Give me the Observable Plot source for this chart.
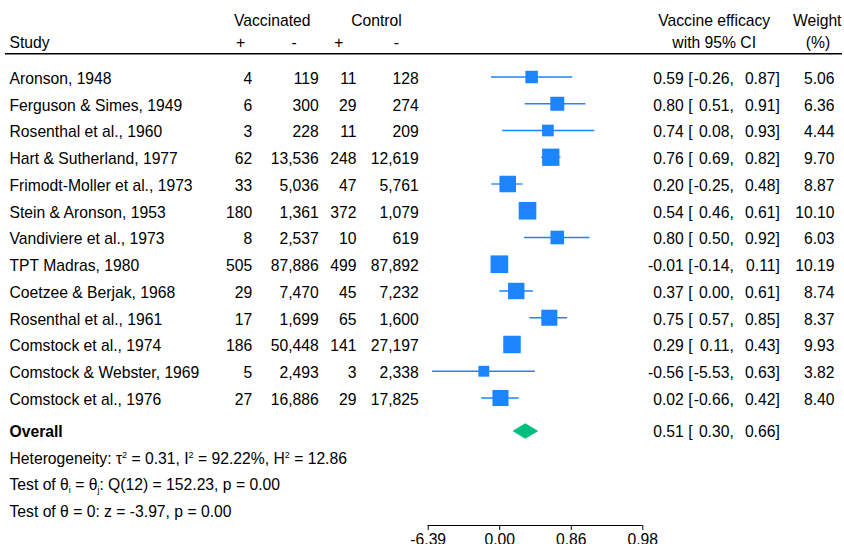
<!DOCTYPE html>
<html><head><meta charset="utf-8">
<script src="https://cdn.jsdelivr.net/npm/d3@7"></script>
<script src="https://cdn.jsdelivr.net/npm/@observablehq/plot@0.6"></script>
<style>body{margin:0;background:#fff} svg{display:block}</style>
</head><body><div id="chart"></div>
<script>
// ---- data ----
const studies = ["Aronson, 1948", "Ferguson & Simes, 1949", "Rosenthal et al., 1960", "Hart & Sutherland, 1977",
  "Frimodt-Moller et al., 1973", "Stein & Aronson, 1953", "Vandiviere et al., 1973", "TPT Madras, 1980",
  "Coetzee & Berjak, 1968", "Rosenthal et al., 1961", "Comstock et al., 1974", "Comstock & Webster, 1969", "Comstock et al., 1976"];
const vaccPos = [4, 6, 3, 62, 33, 180, 8, 505, 29, 17, 186, 5, 27];
const vaccNeg = [119, 300, 228, 13536, 5036, 1361, 2537, 87886, 7470, 1699, 50448, 2493, 16886];
const ctrlPos = [11, 29, 11, 248, 47, 372, 10, 499, 45, 65, 141, 3, 29];
const ctrlNeg = [128, 274, 209, 12619, 5761, 1079, 619, 87892, 7232, 1600, 27197, 2338, 17825];
const efficacy = [0.59, 0.80, 0.74, 0.76, 0.20, 0.54, 0.80, -0.01, 0.37, 0.75, 0.29, -0.56, 0.02];
const lower = [-0.26, 0.51, 0.08, 0.69, -0.25, 0.46, 0.50, -0.14, 0.00, 0.57, 0.11, -5.53, -0.66];
const upper = [0.87, 0.91, 0.93, 0.82, 0.48, 0.61, 0.92, 0.11, 0.61, 0.85, 0.43, 0.63, 0.42];
const weight = [5.06, 6.36, 4.44, 9.70, 8.87, 10.10, 6.03, 10.19, 8.74, 8.37, 9.93, 3.82, 8.40];
const overall = {efficacy: 0.51, lower: 0.30, upper: 0.66};
const summaryLines = [
  "Heterogeneity: τ^2 = 0.31, I^2 = 92.22%, H^2 = 12.86",
  "Test of θ_i = θ_j: Q(12) = 152.23, p = 0.00",
  "Test of θ = 0: z = -3.97, p = 0.00"
];
const axisTicks = [-2, 0, 2, 4]; // on the -ln(1 - efficacy) scale
const headers = {vacc: "Vaccinated", ctrl: "Control", study: "Study", plus: "+", minus: "-",
  eff1: "Vaccine efficacy", eff2: "with 95% CI", w1: "Weight", w2: "(%)", overall: "Overall"};

// ---- layout ----
const W = 844, H = 544, ML = 5, MR = 2, MT = 0, MB = 19;
const FS = 15.7;
const BLUE = "#1a85ff", GREEN = "#00bf7f";
const rowBase = i => 83.3 + 26.75 * i;
const MARK_OFF = 6.8;
const tx = e => -Math.log(1 - e);
const f2 = d => d.toFixed(2);
const fc = d3.format(",");

const rows = studies.map((s, i) => ({
  study: s, vp: fc(vaccPos[i]), vn: fc(vaccNeg[i]), cp: fc(ctrlPos[i]), cn: fc(ctrlNeg[i]),
  est: f2(efficacy[i]), lo: "[", lostr: f2(lower[i]) + ",", histr: f2(upper[i]) + "]", w: f2(weight[i]),
  x: tx(efficacy[i]), x1: tx(lower[i]), x2: tx(upper[i]), weight: weight[i],
  yb: rowBase(i), ym: rowBase(i) - MARK_OFF
}));

const col = (data, text, xpx, anchor, extra = {}) => Plot.text(data, {
  text, y: "yb", frameAnchor: "left", dx: xpx - ML, textAnchor: anchor, lineAnchor: "bottom", ...extra
});
const label = (text, xpx, base, anchor, extra = {}) => Plot.text([text], {
  frameAnchor: "top-left", dx: xpx - ML, dy: base - MT, textAnchor: anchor, lineAnchor: "bottom", ...extra
});

const OVB = 436.7, OVM = 430.5, DH = 7.8;
const oRow = [{yb: OVB, est: f2(overall.efficacy), lo: "[", lostr: f2(overall.lower) + ",", histr: f2(overall.upper) + "]"}];
const diamond = [
  {x: tx(overall.lower), y: OVM}, {x: tx(overall.efficacy), y: OVM - DH},
  {x: tx(overall.upper), y: OVM}, {x: tx(overall.efficacy), y: OVM + DH}, {x: tx(overall.lower), y: OVM}
];
const sumRows = summaryLines.map((t, i) => ({t, yb: 463.3 + 26.5 * i}));

const chart = Plot.plot({
  width: W, height: H, marginLeft: ML, marginRight: MR, marginTop: MT, marginBottom: MB,
  style: {fontFamily: "'Liberation Sans', Arial, Helvetica, sans-serif", fontSize: FS + "px", color: "#000", background: "#fff"},
  x: {domain: [-2, 4], range: [427.7, 642.3], axis: null},
  y: {type: "identity", axis: null},
  r: {type: "sqrt", domain: [0, 1], range: [0, 3.13], clamp: false},
  marks: [
    // headers
    label(headers.vacc, 271.7, 25, "middle"),
    label(headers.ctrl, 376, 25, "middle"),
    label(headers.study, 9, 47.5, "start"),
    label(headers.plus, 240, 47.5, "middle"),
    label(headers.minus, 293.5, 47.5, "middle"),
    label(headers.plus, 338.3, 47.5, "middle"),
    label(headers.minus, 395.8, 47.5, "middle"),
    label(headers.eff1, 713.7, 25, "middle"),
    label(headers.eff2, 713.7, 47, "middle"),
    label(headers.w1, 816.7, 25, "middle"),
    label(headers.w2, 817.5, 47, "middle"),
    Plot.ruleY([53.3], {stroke: "#000", strokeWidth: 1.6}),
    // study columns
    col(rows, "study", 9, "start"),
    col(rows, "vp", 251.7, "end"),
    col(rows, "vn", 318.3, "end"),
    col(rows, "cp", 356, "end"),
    col(rows, "cn", 418.3, "end"),
    col(rows, "est", 683.3, "end"),
    col(rows, "lo", 687.7, "start"),
    col(rows, "lostr", 733.3, "end"),
    col(rows, "histr", 779.3, "end"),
    col(rows, "w", 834, "end"),
    // forest
    Plot.ruleY(rows, {y: "ym", x1: "x1", x2: "x2", stroke: BLUE, strokeWidth: 1.3}),
    Plot.dot(rows, {x: "x", y: "ym", r: "weight", symbol: "square", fill: BLUE, stroke: null}),
    // overall
    label(headers.overall, 9, OVB, "start", {fontWeight: "bold"}),
    col(oRow, "est", 683.3, "end"),
    col(oRow, "lo", 687.7, "start"),
    col(oRow, "lostr", 733.3, "end"),
    col(oRow, "histr", 779.3, "end"),
    Plot.line(diamond, {x: "x", y: "y", fill: GREEN, stroke: null}),
    col(sumRows, "t", 9, "start"),
    // axis
    Plot.ruleY([H - MB], {x1: axisTicks[0], x2: axisTicks[axisTicks.length - 1], stroke: "#000", strokeWidth: 1.2}),
    Plot.axisX({ticks: axisTicks, tickFormat: d => f2(1 - Math.exp(-d) + 0), tickSize: 5, tickPadding: 3, anchor: "bottom", stroke: "#000", fill: "#000", label: null})
  ]
});

// sub/superscripts as tspans
chart.querySelectorAll("text").forEach(t => {
  const s = t.textContent;
  if (!/[_^]/.test(s)) return;
  while (t.firstChild) t.removeChild(t.firstChild);
  const parts = s.split(/([_^]\w)/);
  let shift = 0;
  for (const p of parts) {
    if (!p) continue;
    const ts = document.createElementNS("http://www.w3.org/2000/svg", "tspan");
    let want = 0;
    if (p[0] === "^" && p.length === 2) { ts.textContent = p[1]; ts.setAttribute("font-size", "9"); want = -6; }
    else if (p[0] === "_" && p.length === 2) { ts.textContent = p[1]; ts.setAttribute("font-size", "9"); want = 3; }
    else ts.textContent = p;
    ts.setAttribute("dy", want - shift);
    shift = want;
    t.appendChild(ts);
  }
});
document.getElementById("chart").appendChild(chart);
</script>
</body></html>
